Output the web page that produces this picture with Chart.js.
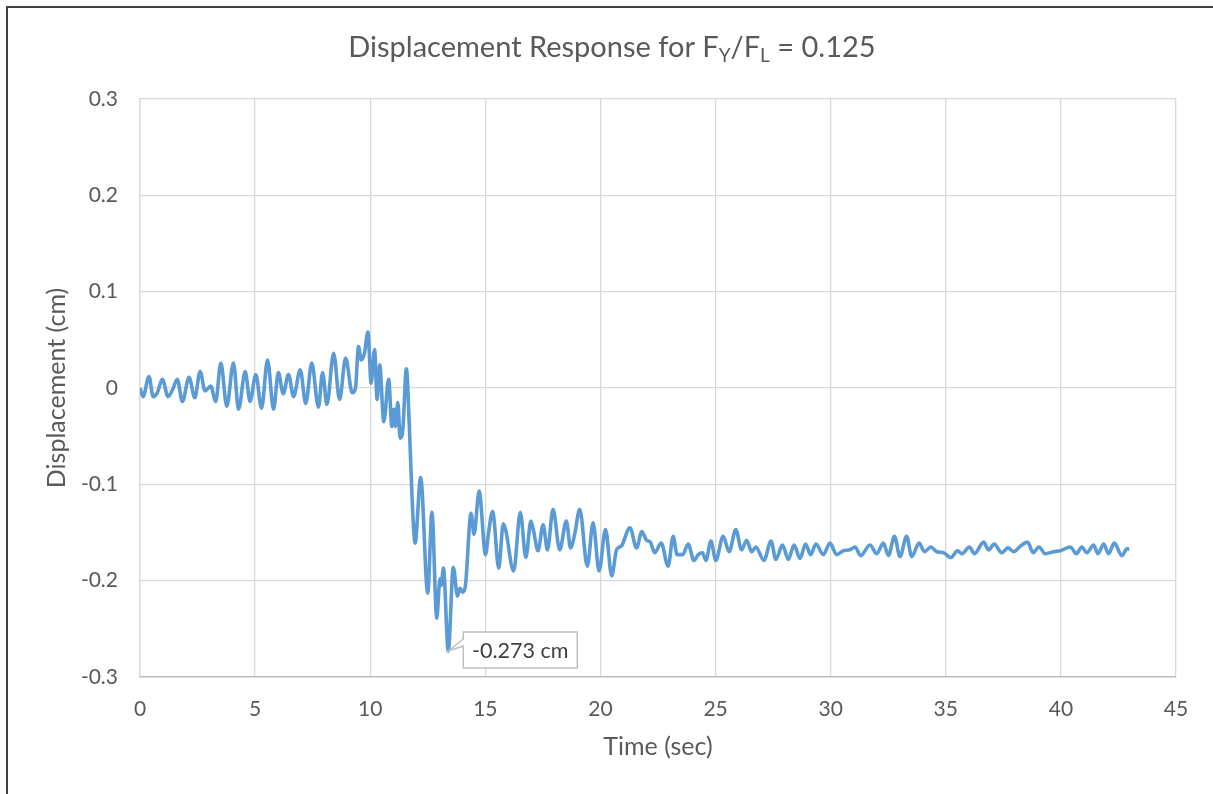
<!DOCTYPE html>
<html>
<head>
<meta charset="utf-8">
<script src="https://cdn.jsdelivr.net/npm/chart.js@4.4.1/dist/chart.umd.min.js"></script>
<style>
    body { margin: 0; overflow: hidden; background: #fff; }
    #wrap { position: relative; width: 1213px; height: 794px; overflow: hidden; }
    #frame { position: absolute; left: 6px; top: 6px; width: 1300px; height: 900px; border-left: 2px solid #404040; border-top: 2px solid #404040; }
    canvas { position: absolute; left: 0; top: 0; }
</style>
</head>
<body>
<div id="wrap">
    <div id="frame"></div>
    <canvas id="myChart" width="1213" height="794"></canvas>
</div>
<script>
// time (sec) and displacement (cm) at peaks / troughs
const timeSec = [
    0.00, 0.13, 0.39, 0.57, 0.75, 0.97, 1.22, 1.41, 1.62, 1.84,
    2.13, 2.38, 2.61, 2.83, 3.07, 3.29, 3.51, 3.77, 4.06, 4.28,
    4.57, 4.78, 5.03, 5.28, 5.54, 5.80, 6.01, 6.22, 6.45, 6.67,
    6.96, 7.20, 7.46, 7.75, 7.93, 8.12, 8.41, 8.67, 8.93, 9.22,
    9.36, 9.49, 9.61, 9.75, 9.90, 10.04, 10.19, 10.30, 10.41, 10.59,
    10.80, 10.94, 11.03, 11.10, 11.20, 11.30, 11.42, 11.57, 11.70, 11.82,
    11.95, 12.19, 12.50, 12.68, 12.89, 13.03, 13.08, 13.18, 13.39, 13.61,
    13.79, 13.90, 14.01, 14.13, 14.38, 14.51, 14.73, 15.01, 15.14, 15.32,
    15.58, 15.78, 15.88, 16.23, 16.52, 16.76, 16.98, 17.10, 17.29, 17.51,
    17.70, 17.94, 18.23, 18.52, 18.70, 18.88, 19.10, 19.43, 19.68, 19.94,
    20.22, 20.49, 20.70, 20.91, 21.28, 21.57, 21.80, 22.00, 22.17, 22.35,
    22.64, 22.94, 23.16, 23.33, 23.57, 23.81, 24.06, 24.25, 24.43, 24.58,
    24.80, 25.01, 25.33, 25.59, 25.88, 26.13, 26.35, 26.57, 26.75, 27.10,
    27.41, 27.62, 27.91, 28.16, 28.41, 28.67, 28.91, 29.13, 29.36, 29.68,
    29.97, 30.26, 30.55, 30.84, 31.06, 31.30, 31.71, 32.00, 32.29, 32.51,
    32.77, 33.01, 33.30, 33.52, 33.84, 34.07, 34.35, 34.61, 34.90, 35.22,
    35.51, 35.70, 36.03, 36.25, 36.64, 36.86, 37.10, 37.43, 37.70, 37.95,
    38.20, 38.55, 38.80, 39.05, 39.32, 39.68, 39.97, 40.41, 40.67, 40.91,
    41.13, 41.42, 41.61, 41.86, 42.07, 42.32, 42.65, 42.87, 42.97
];
const dispCm = [
    0.000, -0.009, 0.012, -0.009, -0.005, 0.009, -0.009, -0.002, 0.009, -0.014,
    0.011, -0.010, 0.017, -0.003, 0.002, -0.014, 0.026, -0.019, 0.026, -0.022,
    0.017, -0.014, 0.014, -0.021, 0.029, -0.022, 0.016, -0.006, 0.014, -0.009,
    0.019, -0.016, 0.026, -0.020, 0.016, -0.017, 0.036, -0.012, 0.031, -0.005,
    0.000, 0.043, 0.029, 0.036, 0.058, 0.005, 0.040, -0.012, 0.024, -0.035,
    0.009, -0.040, -0.022, -0.040, -0.015, -0.052, -0.042, 0.020, -0.040, -0.115,
    -0.161, -0.093, -0.213, -0.129, -0.239, -0.198, -0.205, -0.187, -0.273, -0.186,
    -0.216, -0.208, -0.212, -0.206, -0.130, -0.152, -0.107, -0.173, -0.150, -0.128,
    -0.187, -0.141, -0.147, -0.190, -0.129, -0.176, -0.138, -0.149, -0.169, -0.142,
    -0.168, -0.126, -0.168, -0.138, -0.166, -0.152, -0.126, -0.185, -0.140, -0.190,
    -0.147, -0.195, -0.168, -0.164, -0.145, -0.166, -0.149, -0.158, -0.160, -0.171,
    -0.161, -0.185, -0.154, -0.173, -0.173, -0.162, -0.179, -0.173, -0.171, -0.179,
    -0.159, -0.179, -0.154, -0.170, -0.147, -0.168, -0.158, -0.170, -0.165, -0.179,
    -0.159, -0.178, -0.163, -0.178, -0.163, -0.177, -0.162, -0.173, -0.162, -0.173,
    -0.161, -0.173, -0.169, -0.168, -0.165, -0.174, -0.163, -0.172, -0.161, -0.174,
    -0.154, -0.175, -0.154, -0.175, -0.161, -0.170, -0.165, -0.170, -0.171, -0.176,
    -0.169, -0.172, -0.165, -0.172, -0.160, -0.168, -0.162, -0.171, -0.166, -0.170,
    -0.165, -0.160, -0.171, -0.165, -0.172, -0.170, -0.169, -0.165, -0.172, -0.165,
    -0.171, -0.163, -0.172, -0.162, -0.172, -0.161, -0.174, -0.167, -0.167
];

const TEXT_COLOR = '#595959';
const FONT = 'Lato';

// chart title with subscripts (F_Y / F_L)
const titlePlugin = {
    id: 'subTitle',
    afterDraw(chart) {
        const c = chart.ctx;
        const parts = [
            ['Displacement Response for F', false],
            ['Y', true],
            ['/F', false],
            ['L', true],
            [' = 0.125', false]
        ];
        const big = '29px ' + FONT, small = '19px ' + FONT;
        c.save();
        c.fillStyle = TEXT_COLOR;
        c.textBaseline = 'alphabetic';
        c.textAlign = 'left';
        let total = 0;
        parts.forEach(p => {
            c.font = p[1] ? small : big;
            total += c.measureText(p[0]).width;
        });
        let x = 612 - total / 2;
        parts.forEach(p => {
            c.font = p[1] ? small : big;
            c.fillText(p[0], x, p[1] ? 62 : 57);
            x += c.measureText(p[0]).width;
        });
        c.restore();
    }
};

// callout label on the minimum point
const minLabelPlugin = {
    id: 'minLabel',
    afterDatasetsDraw(chart) {
        let idx = 0;
        for (let i = 1; i < dispCm.length; i++) {
            if (dispCm[i] < dispCm[idx]) idx = i;
        }
        const px = chart.scales.x.getPixelForValue(timeSec[idx]);
        const py = chart.scales.y.getPixelForValue(dispCm[idx]);
        const c = chart.ctx;
        const bx = px + 15, by = py - 19, bw = 114, bh = 36;
        c.save();
        c.beginPath();
        c.moveTo(bx, by);
        c.lineTo(bx + bw, by);
        c.lineTo(bx + bw, by + bh);
        c.lineTo(bx, by + bh);
        c.lineTo(bx, by + 14);
        c.lineTo(px, py);
        c.lineTo(bx, by + 7);
        c.closePath();
        c.fillStyle = '#ffffff';
        c.fill();
        c.strokeStyle = '#bfbfbf';
        c.lineWidth = 1.5;
        c.stroke();
        c.fillStyle = '#404040';
        c.font = '21.5px ' + FONT;
        c.textAlign = 'center';
        c.textBaseline = 'middle';
        c.fillText(dispCm[idx].toFixed(3) + ' cm', bx + bw / 2, by + bh / 2 + 1);
        c.restore();
    }
};

const ctx = document.getElementById('myChart');
const data = {
    datasets: [{
        label: 'Displacement',
        data: timeSec.map((t, i) => ({x: t, y: dispCm[i]})),
        borderColor: '#5b9bd5',
        borderWidth: 3.6,
        pointRadius: 0,
        fill: false,
        cubicInterpolationMode: 'monotone'
    }]
};

const config = {
    type: 'line',
    data: data,
    options: {
        responsive: false,
        animation: false,
        layout: { padding: { top: 99, right: 37, left: 0, bottom: 0 } },
        plugins: {
            legend: { display: false },
            title: { display: false },
            tooltip: { enabled: false }
        },
        scales: {
            x: {
                type: 'linear',
                min: 0,
                max: 45,
                afterFit(s) { s.height = 117; },
                ticks: { stepSize: 5, padding: 20, color: TEXT_COLOR, font: { family: FONT, size: 21 } },
                grid: { color: '#d9d9d9', lineWidth: 1.3, drawTicks: false },
                border: { color: '#bfbfbf', width: 1.5 },
                title: {
                    display: true,
                    text: 'Time (sec)',
                    color: TEXT_COLOR,
                    font: { family: FONT, size: 25 },
                    padding: { top: 0, bottom: 32 }
                }
            },
            y: {
                min: -0.3,
                max: 0.3,
                afterFit(s) { s.width = 140; },
                ticks: {
                    stepSize: 0.1,
                    padding: 22,
                    color: TEXT_COLOR,
                    font: { family: FONT, size: 21 },
                    callback: v => String(Math.round(v * 10) / 10)
                },
                grid: { color: '#d9d9d9', lineWidth: 1.3, drawTicks: false },
                border: { color: '#d9d9d9', width: 1.3 },
                title: {
                    display: true,
                    text: 'Displacement (cm)',
                    color: TEXT_COLOR,
                    font: { family: FONT, size: 25 },
                    padding: { top: 42, bottom: 0 }
                }
            }
        }
    },
    plugins: [titlePlugin, minLabelPlugin]
};

const myChart = new Chart(ctx, config);
</script>
</body>
</html>
